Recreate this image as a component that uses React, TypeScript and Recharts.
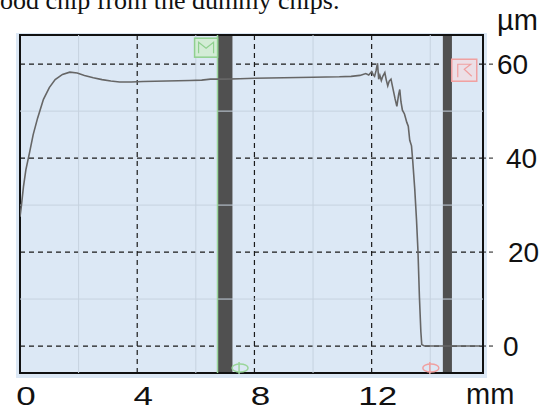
import {
  LineChart,
  Line,
  XAxis,
  YAxis,
  CartesianGrid,
  ReferenceLine,
  ReferenceArea,
  ReferenceDot,
} from "recharts";

// profile trace: position (mm) vs thickness (µm)
const positionMm = [
  0, 0.05, 0.12, 0.2, 0.32, 0.45, 0.6, 0.8, 1.0, 1.2, 1.45, 1.7, 1.95, 2.2, 2.5,
  2.8, 3.1, 3.4, 3.8, 4.2, 5.0, 5.8, 6.2, 6.5, 7.0, 7.5, 8.0, 9.0, 10.0, 10.9,
  11.3, 11.6, 11.8, 11.9, 12.0, 12.05, 12.1, 12.15, 12.2, 12.24, 12.28, 12.33,
  12.38, 12.45, 12.5, 12.55, 12.6, 12.66, 12.72, 12.8, 12.86, 12.92, 12.96,
  13.0, 13.05, 13.12, 13.2, 13.25, 13.3, 13.36, 13.4, 13.47, 13.53, 13.58,
  13.63, 13.68, 13.71, 13.8, 14.5, 15.1, 15.7,
];
const thicknessUm = [
  27.5, 30, 34, 37.5, 41, 45, 48.5, 52.5, 55, 56.7, 57.8, 58.3, 58.1, 57.6, 57.1,
  56.7, 56.4, 56.2, 56.2, 56.3, 56.4, 56.5, 56.6, 56.8, 56.8, 56.9, 57.0, 57.1,
  57.2, 57.3, 57.4, 57.6, 58.0, 57.7, 58.4, 57.8, 57.4, 58.6, 60.2, 56.8, 57.6,
  56.5, 57.4, 58.2, 56.6, 55.4, 56.4, 56.8, 55.0, 52.6, 51.0, 53.5, 54.6, 52.0,
  50.2, 49.4, 47.6, 46.8, 43.8, 42.6, 39.6, 33.5, 27, 20.4, 10.5, 3, 0.3, 0, 0,
  0, 0,
];

const xTicks = [0, 4, 8, 12];
const yTicks = [0, 20, 40, 60];
const xMinor = [2, 6, 10, 14];
const yMinor = [10, 30, 50];
const xDomain: [number, number] = [0, 15.8];
const yDomain: [number, number] = [-5.74, 66.2];

// cursor bars (mm)
const cursorM = [6.74, 7.25];
const cursorR = [14.43, 14.74];

const data = positionMm.map((x, i) => ({ x, y: thicknessUm[i] }));

const FONT = '"Liberation Sans", Arial, sans-serif';

function XTick({ x, y, payload }: any) {
  return (
    <text
      transform={`translate(${x + 6}, ${y + 24}) scale(1.4, 1)`}
      textAnchor="middle"
      fontFamily={FONT}
      fontSize={25}
      fill="#111"
    >
      {payload.value}
    </text>
  );
}

const yNudge: Record<number, number> = { 60: 0, 40: 9, 20: 11, 0: 6 };

function YTick({ x, y, payload }: any) {
  return (
    <text
      x={x + 2 + (yNudge[payload.value] ?? 0)}
      y={y + 10}
      textAnchor="start"
      fontFamily={FONT}
      fontSize={28}
      fill="#111"
    >
      {payload.value}
    </text>
  );
}

function MarkerBox({ cx, cy, color, fill, kind }: any) {
  const w = kind === "M" ? 23 : 25;
  const h = kind === "M" ? 19 : 22;
  const l = cx - w / 2;
  const t = cy - h / 2;
  return (
    <g>
      <rect x={l} y={t} width={w} height={h} fill={fill} stroke={color} strokeWidth={1.5} />
      {kind === "M" ? (
        <polyline
          points={`${l + 4},${t + h - 4} ${l + 4},${t + 4} ${cx},${t + 10} ${l + w - 4},${t + 4} ${l + w - 4},${t + h - 4}`}
          fill="none"
          stroke={color}
          strokeWidth={1.2}
        />
      ) : (
        <polyline
          points={`${l + 6},${t + h - 4} ${l + 6},${t + 5} ${l + w - 6},${t + 5} ${cx},${t + 10} ${l + w - 5},${t + h - 5}`}
          fill="none"
          stroke={color}
          strokeWidth={1.2}
        />
      )}
    </g>
  );
}

function EyeMark({ cx, cy, color }: any) {
  return (
    <g>
      <ellipse cx={cx} cy={cy} rx={8} ry={4} fill="none" stroke={color} strokeWidth={1.5} />
      <line x1={cx - 1} x2={cx - 1} y1={cy - 6} y2={cy + 6} stroke={color} strokeWidth={1.5} />
    </g>
  );
}

export default function App() {
  return (
    <div style={{ position: "absolute", left: 0, top: 0, width: 542, height: 411, overflow: "hidden", background: "#fff" }}>
      <div
        style={{
          position: "absolute",
          left: 0,
          top: -12,
          fontFamily: '"Liberation Serif", "Times New Roman", serif',
          fontSize: 26,
          lineHeight: "26px",
          whiteSpace: "nowrap",
          color: "#111",
        }}
      >
        ood chip from the dummy chips.
      </div>
      <div style={{ position: "absolute", left: 16, top: 33, width: 471, height: 345, background: "#dce8f5" }} />
      <div style={{ position: "absolute", left: 0, top: 0 }}>
        <LineChart width={542} height={411} data={data} margin={{ top: 35, right: 0, bottom: 0, left: 20 }}>
          <CartesianGrid fill="#dce8f5" stroke="#1a1a1a" strokeDasharray="5 4" strokeWidth={1.2} />
          {xMinor.map((v) => (
            <ReferenceLine key={`xm${v}`} x={v} stroke="#c6d2df" strokeWidth={1} />
          ))}
          {yMinor.map((v) => (
            <ReferenceLine key={`ym${v}`} y={v} stroke="#c6d2df" strokeWidth={1} />
          ))}
          <XAxis
            dataKey="x"
            type="number"
            domain={xDomain}
            ticks={xTicks}
            height={38}
            axisLine={false}
            tickLine={false}
            tick={XTick}
            allowDataOverflow
          />
          <YAxis
            type="number"
            orientation="right"
            domain={yDomain}
            ticks={yTicks}
            width={59}
            axisLine={false}
            tickSize={10}
            tickLine={{ stroke: "#1a1a1a", strokeDasharray: "4 3" }}
            tick={YTick}
            allowDataOverflow
          />
          <ReferenceArea x1={cursorM[0]} x2={cursorM[1]} fill="#505050" fillOpacity={1} stroke="none" />
          <ReferenceArea x1={cursorR[0]} x2={cursorR[1]} fill="#505050" fillOpacity={1} stroke="none" />
          <ReferenceLine x={cursorM[0]} stroke="#9ad59a" strokeWidth={1.5} />
          <Line
            type="linear"
            dataKey="y"
            stroke="#666"
            strokeWidth={1.6}
            dot={false}
            isAnimationActive={false}
          />
          <ReferenceArea
            x1={xDomain[0]}
            x2={xDomain[1]}
            y1={yDomain[0]}
            y2={yDomain[1]}
            fill="none"
            stroke="#111"
            strokeWidth={2}
          />
          <ReferenceDot x={6.35} y={63.5} r={1} shape={(p: any) => <MarkerBox {...p} kind="M" color="#8fd08f" fill="#d3ecd6" />} />
          <ReferenceDot x={15.16} y={58.7} r={1} shape={(p: any) => <MarkerBox {...p} kind="R" color="#f0a0a0" fill="#ecdfe6" />} />
          <ReferenceDot x={7.51} y={-4.68} r={1} shape={(p: any) => <EyeMark {...p} color="#9ad59a" />} />
          <ReferenceDot x={14.02} y={-4.68} r={1} shape={(p: any) => <EyeMark {...p} color="#f0a0a0" />} />
        </LineChart>
      </div>
      <div style={{ position: "absolute", left: 497, top: 6, fontFamily: FONT, fontSize: 29, lineHeight: "29px", color: "#111" }}>
        µm
      </div>
      <div style={{ position: "absolute", left: 466, top: 382, fontFamily: FONT, fontSize: 29, lineHeight: "24px", color: "#111" }}>
        mm
      </div>
    </div>
  );
}
